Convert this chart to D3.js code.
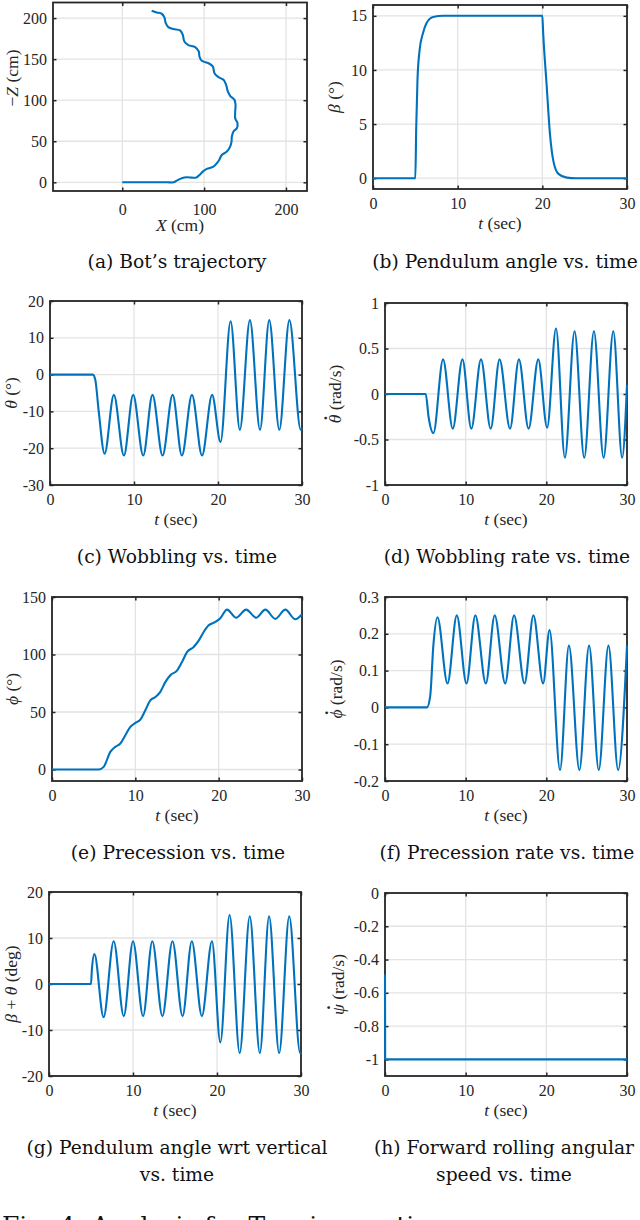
<!DOCTYPE html>
<html>
<head>
<meta charset="utf-8">
<script src="https://cdn.jsdelivr.net/npm/d3@7"></script>
<style>
body { margin: 0; background: #fff; }
svg text { font-family: "Liberation Serif", serif; }
</style>
</head>
<body>
<script>
// ---- data ----
// (a) trajectory, X and -Z in cm
var trajX = [0, 20, 40, 55, 62.4, 66.5, 72.7, 78.8, 84.9, 90.2, 94.3, 98.4, 103.3, 111.4, 115.5, 118.4, 121.6, 127.8, 131.8, 133.5, 133.9, 135.9, 140, 140.8, 138, 138, 138.4, 137.1, 131.8, 129, 126.9, 123.7, 117.6, 112.7, 110.6, 105.3, 97.1, 94.3, 93.5, 89, 80.8, 75.9, 73.9, 70.6, 62.4, 56.3, 53.1, 51.4, 48.2, 42, 35.9];
var trajZ = [0, 0, 0, 0, 0, 2, 4.9, 6.1, 5.7, 5.7, 8.9, 13, 16.3, 19.1, 23.2, 27.2, 33.3, 37.4, 43.5, 49.6, 55.7, 61.8, 65.9, 72, 78, 86.2, 94.3, 100.4, 105.3, 110.6, 118.7, 124.8, 128, 132.9, 141.1, 145.1, 148, 153.3, 159.3, 164.6, 167.1, 171.5, 179.7, 185, 186.6, 189, 193.9, 201.2, 205.3, 206.9, 208.9];

// (b) pendulum angle beta (deg)
var betaPts = [[0,0],[5,0],[5.1,4.5],[5.25,9],[5.5,11.8],[5.9,13.4],[6.3,14.3],[7.1,14.9],[8.3,15],[20,15],[20.1,13.4],[20.5,8.7],[20.9,4.1],[21.3,1.6],[21.9,0.4],[22.9,0.05],[24,0],[30,0]];

// (c) wobbling theta (deg)
var thetaPts = [[0,0],[5.1,0],[5.4,-1.5],[5.8,-10],[6.5,-21.5],[7.6,-5.5],[8.8,-22],[9.9,-5.5],[11.1,-22],[12.2,-5.5],[13.4,-22],[14.6,-5.5],[15.7,-22],[16.9,-5.5],[18.1,-22],[19.3,-5.5],[20.3,-18.3],[21.5,14.5],[22.6,-15],[23.8,14.8],[25.0,-15],[26.1,14.8],[27.3,-15],[28.5,14.8],[29.85,-15],[30,-14.6]];

// (d) wobbling rate (rad/s)
var thetaDotPts = [[0,0],[5.05,0],[5.4,-0.25],[6.0,-0.43],[7.2,0.38],[8.4,-0.38],[9.6,0.38],[10.7,-0.38],[11.9,0.38],[13.1,-0.38],[14.2,0.38],[15.5,-0.38],[16.6,0.38],[17.8,-0.38],[19.0,0.38],[20.1,-0.37],[21.2,0.72],[22.3,-0.7],[23.5,0.69],[24.7,-0.7],[25.9,0.69],[27.1,-0.7],[28.3,0.69],[29.4,-0.7],[30,0.1]];

// (e) precession phi (deg)
var phiPts = [[0,0],[5.6,0],[6.2,2.3],[7,15.3],[7.6,19.7],[8.2,22.6],[8.8,29.8],[9.4,37],[10,40.5],[10.6,43.4],[11.2,51.5],[11.8,60.2],[12.4,63],[13,67.5],[13.6,76],[14.2,82],[15,86],[15.6,93.5],[16.2,102],[17,106.5],[17.6,112],[18.2,119.6],[18.8,125.4],[19.6,128.3],[20.2,131.5],[21,139],[22.1,132],[23.3,139],[24.5,132],[25.6,139],[26.8,131],[28,139],[29.2,130.6],[30,135]];

// (f) precession rate (rad/s)
var phiDotPts = [[0,0],[5.2,0],[5.6,0.03],[6.0,0.17],[6.5,0.245],[7.75,0.065],[8.9,0.25],[10.1,0.065],[11.2,0.25],[12.5,0.065],[13.6,0.25],[14.9,0.065],[16.0,0.25],[17.3,0.065],[18.4,0.25],[19.6,0.065],[20.4,0.21],[21.7,-0.17],[22.8,0.168],[24.1,-0.17],[25.3,0.168],[26.5,-0.17],[27.7,0.168],[28.9,-0.17],[30,0.168]];

// (g) beta + theta (deg)
var sumPts = [[0,0],[5.0,0],[5.1,3],[5.4,6.5],[6.5,-7.2],[7.7,9.3],[8.9,-7],[10.0,9.3],[11.2,-7],[12.3,9.3],[13.5,-7],[14.7,9.3],[15.9,-7],[17.0,9.3],[18.2,-7],[19.4,9.3],[20.4,-12.7],[21.5,15],[22.7,-15],[23.9,14.7],[25.1,-15],[26.2,14.7],[27.4,-15],[28.6,14.7],[29.9,-15],[30,-14.8]];

// (h) forward rolling speed (rad/s)
var psiDotPts = [[0,-0.49],[0.02,-1],[30,-1]];

// tick values / labels
var tTicks = [0, 10, 20, 30];
var tTickLabels = ["0", "10", "20", "30"];
var trajXTicks = [0, 100, 200];
var trajZTicks = [0, 50, 100, 150, 200];
var betaTicks = [0, 5, 10, 15];
var thetaTicks = [-30, -20, -10, 0, 10, 20];
var thetaDotTicks = [-1, -0.5, 0, 0.5, 1];
var thetaDotLabels = ["-1", "-0.5", "0", "0.5", "1"];
var phiTicks = [0, 50, 100, 150];
var phiDotTicks = [-0.2, -0.1, 0, 0.1, 0.2, 0.3];
var phiDotLabels = ["-0.2", "-0.1", "0", "0.1", "0.2", "0.3"];
var sumTicks = [-20, -10, 0, 10, 20];
var psiDotTicks = [-1, -0.8, -0.6, -0.4, -0.2, 0];
var psiDotLabels = ["-1", "-0.8", "-0.6", "-0.4", "-0.2", "0"];

var lineColor = "#0072BD";
var axisColor = "#262626";
var gridColor = "#e3e3e3";

var svg = d3.select("body").append("svg")
  .attr("width", 640)
  .attr("height", 1220);

// writes a label made of [text, italic, dotted] pieces
function richText(sel, parts) {
  var afterDot = false;
  parts.forEach(function(p) {
    var ts = sel.append("tspan")
      .style("font-style", p[1] ? "italic" : "normal")
      .text(p[0]);
    if (afterDot) {
      // back to the baseline after the raised dot
      ts.attr("dx", "0.07em").attr("dy", "0.78em");
      afterDot = false;
    }
    if (p[2]) {
      // time-derivative dot raised over the letter
      sel.append("tspan")
        .attr("dx", "-0.32em")
        .attr("dy", "-0.78em")
        .style("font-style", "normal")
        .style("font-weight", "bold")
        .text(".");
      afterDot = true;
    }
  });
}

function drawPanel(p) {
  var g = svg.append("g");
  var L = p.box[0], R = p.box[1], T = p.box[2], B = p.box[3];
  var x = d3.scaleLinear().domain(p.xDomain).range([L, R]);
  var y = d3.scaleLinear().domain(p.yDomain).range([B, T]);
  var fmtX = function(d, i) { return p.xLabels ? p.xLabels[i] : String(d); };
  var fmtY = function(d, i) { return p.yLabels ? p.yLabels[i] : String(d); };

  // grid
  g.selectAll(".gx").data(p.xTicks).enter().append("line")
    .attr("x1", function(d) { return x(d); })
    .attr("x2", function(d) { return x(d); })
    .attr("y1", T).attr("y2", B)
    .attr("stroke", gridColor).attr("stroke-width", 1.3);
  g.selectAll(".gy").data(p.yTicks).enter().append("line")
    .attr("y1", function(d) { return y(d); })
    .attr("y2", function(d) { return y(d); })
    .attr("x1", L).attr("x2", R)
    .attr("stroke", gridColor).attr("stroke-width", 1.3);

  // box
  g.append("rect")
    .attr("x", L).attr("y", T)
    .attr("width", R - L).attr("height", B - T)
    .attr("fill", "none")
    .attr("stroke", axisColor)
    .attr("stroke-width", 1.8);

  // axes, ticks pointing inward on all four sides
  var axes = [
    [d3.axisBottom(x).tickValues(p.xTicks).tickFormat(fmtX).tickPadding(p.xPad || 9), "translate(0," + B + ")", true],
    [d3.axisTop(x).tickValues(p.xTicks).tickFormat(""), "translate(0," + T + ")", false],
    [d3.axisLeft(y).tickValues(p.yTicks).tickFormat(fmtY).tickPadding(6), "translate(" + L + ",0)", true],
    [d3.axisRight(y).tickValues(p.yTicks).tickFormat(""), "translate(" + R + ",0)", false]
  ];
  axes.forEach(function(a) {
    var ag = g.append("g")
      .attr("transform", a[1])
      .attr("color", axisColor)
      .attr("font-family", "Liberation Serif")
      .call(a[0].tickSizeInner(-3.5).tickSizeOuter(0));
    ag.select(".domain").remove();
    ag.selectAll("line").attr("stroke-width", 1.5);
    ag.selectAll("text")
      .attr("fill", axisColor)
      .style("font-family", "'Liberation Serif', serif")
      .style("font-size", "16px");
    if (!a[2]) ag.selectAll("text").remove();
  });

  // data line
  var line = d3.line()
    .x(function(d) { return x(d[0]); })
    .y(function(d) { return y(d[1]); })
    .curve(p.curve || d3.curveMonotoneX);
  g.append("path")
    .datum(p.data)
    .attr("d", line)
    .attr("fill", "none")
    .attr("stroke", lineColor)
    .attr("stroke-width", 2.1)
    .attr("stroke-linejoin", "round");

  // axis labels
  var xl = g.append("text")
    .attr("x", (L + R) / 2)
    .attr("y", B + 40)
    .attr("text-anchor", "middle")
    .attr("fill", axisColor)
    .style("font-size", "17.5px");
  richText(xl, p.xTitle);

  var ly = p.yTitleY || (T + B) / 2;
  var yl = g.append("text")
    .attr("transform", "translate(" + p.yTitleX + "," + ly + ") rotate(-90)")
    .attr("dy", "0.35em")
    .attr("text-anchor", "middle")
    .attr("fill", axisColor)
    .style("font-size", "17.5px");
  richText(yl, p.yTitle);

  // sub-caption
  p.caption.forEach(function(c, i) {
    svg.append("text")
      .attr("x", p.capX)
      .attr("y", p.capY + i * 27)
      .attr("text-anchor", "middle")
      .attr("fill", "#111")
      .style("font-family", "'DejaVu Serif', serif")
      .style("font-size", "18.7px")
      .text(c);
  });
}

var tTitle = [["t", 1], [" (sec)", 0]];

drawPanel({
  box: [53, 307, 2.5, 191], xDomain: [-84.6, 225.7], yDomain: [-10.6, 219],
  xTicks: trajXTicks, yTicks: trajZTicks, xPad: 13,
  data: trajX.map(function(v, i) { return [v, trajZ[i]]; }),
  curve: d3.curveCatmullRom.alpha(0.5),
  xTitle: [["X", 1], [" (cm)", 0]],
  yTitle: [["\u2212", 0], ["Z", 1], [" (cm)", 0]], yTitleX: 12, yTitleY: 78,
  caption: ["(a) Bot\u2019s trajectory"], capX: 177, capY: 268
});

drawPanel({
  box: [373, 627, 5, 189], xDomain: [0, 30], yDomain: [-1, 16],
  xTicks: tTicks, xLabels: tTickLabels, yTicks: betaTicks,
  data: betaPts,
  xTitle: tTitle,
  yTitle: [["\u03b2", 1], [" (\u00b0)", 0]], yTitleX: 334,
  caption: ["(b) Pendulum angle vs. time"], capX: 505, capY: 268
});

drawPanel({
  box: [50, 302, 301, 485], xDomain: [0, 30], yDomain: [-30, 20],
  xTicks: tTicks, xLabels: tTickLabels, yTicks: thetaTicks,
  data: thetaPts,
  xTitle: tTitle,
  yTitle: [["\u03b8", 1], [" (\u00b0)", 0]], yTitleX: 11,
  caption: ["(c) Wobbling vs. time"], capX: 177, capY: 563
});

drawPanel({
  box: [385, 627, 303, 485], xDomain: [0, 30], yDomain: [-1, 1],
  xTicks: tTicks, xLabels: tTickLabels, yTicks: thetaDotTicks, yLabels: thetaDotLabels,
  data: thetaDotPts,
  xTitle: tTitle,
  yTitle: [["\u03b8", 1, 1], [" (rad/s)", 0]], yTitleX: 335,
  caption: ["(d) Wobbling rate vs. time"], capX: 507, capY: 563
});

drawPanel({
  box: [52, 302, 597, 781], xDomain: [0, 30], yDomain: [-10, 150],
  xTicks: tTicks, xLabels: tTickLabels, yTicks: phiTicks,
  data: phiPts,
  xTitle: tTitle,
  yTitle: [["\u03d5", 1], [" (\u00b0)", 0]], yTitleX: 12,
  caption: ["(e) Precession vs. time"], capX: 178, capY: 859
});

drawPanel({
  box: [385, 627, 597, 781], xDomain: [0, 30], yDomain: [-0.2, 0.3],
  xTicks: tTicks, xLabels: tTickLabels, yTicks: phiDotTicks, yLabels: phiDotLabels,
  data: phiDotPts,
  xTitle: tTitle,
  yTitle: [["\u03d5", 1, 1], [" (rad/s)", 0]], yTitleX: 336,
  caption: ["(f) Precession rate vs. time"], capX: 507, capY: 859
});

drawPanel({
  box: [49, 301, 892, 1076], xDomain: [0, 30], yDomain: [-20, 20],
  xTicks: tTicks, xLabels: tTickLabels, yTicks: sumTicks,
  data: sumPts,
  xTitle: tTitle,
  yTitle: [["\u03b2", 1], [" + ", 0], ["\u03b8", 1], [" (deg)", 0]], yTitleX: 11,
  caption: ["(g) Pendulum angle wrt vertical", "vs. time"], capX: 177, capY: 1154
});

drawPanel({
  box: [385, 627, 893, 1076], xDomain: [0, 30], yDomain: [-1.1, 0],
  xTicks: tTicks, xLabels: tTickLabels, yTicks: psiDotTicks, yLabels: psiDotLabels,
  data: psiDotPts, curve: d3.curveLinear,
  xTitle: tTitle,
  yTitle: [["\u03c8", 1, 1], [" (rad/s)", 0]], yTitleX: 338,
  caption: ["(h) Forward rolling angular", "speed vs. time"], capX: 504, capY: 1154
});

// figure caption, cut by the bottom edge as in the source page
svg.append("text")
  .attr("x", 2)
  .attr("y", 1234)
  .attr("fill", "#111")
  .style("font-family", "'DejaVu Serif', serif")
  .style("font-size", "25px")
  .text("Fig. 4: Analysis for Turning motion");
</script>
</body>
</html>
